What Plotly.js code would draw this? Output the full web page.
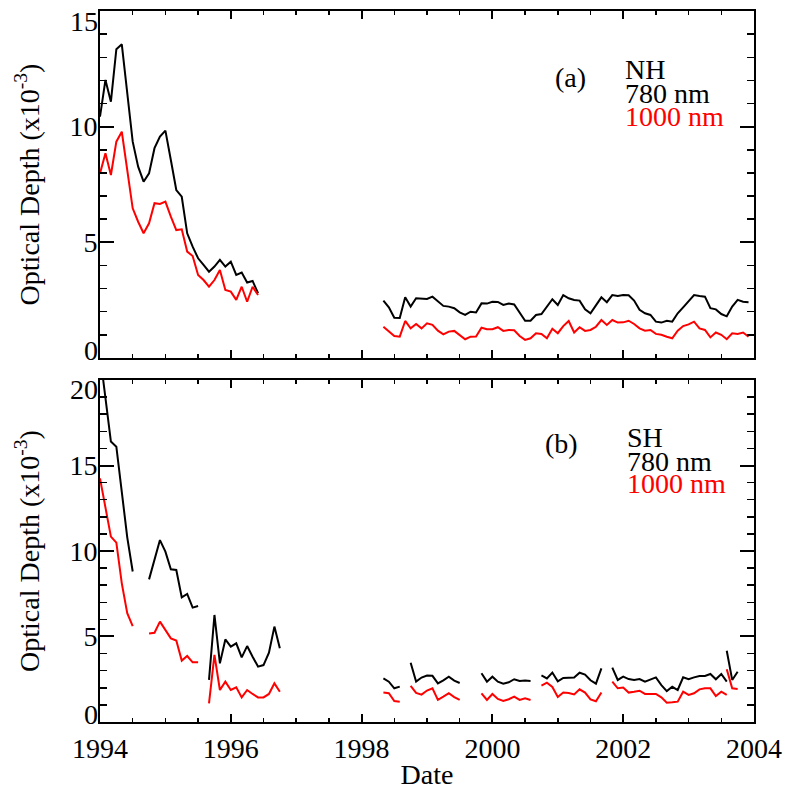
<!DOCTYPE html>
<html>
<head>
<meta charset="utf-8">
<script src="https://cdn.plot.ly/plotly-3.0.1.min.js"></script>
<style>html,body{margin:0;padding:0;background:#fff;}#chart{width:788px;height:794px;}</style>
</head>
<body>
<div id="chart"></div>
<script>
// ---- Data (optical depth x1e-3), monthly values; each segment starts at the given month ----
// Panel (a) NH
const nhStarts = ['1994-01', '1998-05'];
const nh780 = [
  [10.43, 12.02, 11.08, 13.35, 13.56, 11.44, 9.35, 8.27, 7.62, 7.98, 9.07, 9.57, 9.83, 8.56, 7.26,
   6.97, 5.39, 4.81, 4.31, 4.02, 3.73, 3.95, 4.24, 3.95, 4.16, 3.59, 3.69, 3.26, 3.33, 2.80],
  [2.48, 2.19, 1.74, 1.73, 2.62, 2.22, 2.58, 2.55, 2.55, 2.65,
   2.43, 2.25, 2.22, 2.15, 1.97, 1.86, 2.0, 1.97, 2.36, 2.35,
   2.43, 2.42, 2.29, 2.35, 2.31, 1.93, 1.61, 1.61, 1.86, 1.9,
   2.22, 2.54, 2.29, 2.72, 2.58, 2.51, 2.48, 2.1, 1.93, 2.29,
   2.62, 2.41, 2.72, 2.68, 2.72, 2.71, 2.48, 2.08, 1.93, 1.86,
   1.57, 1.53, 1.61, 1.57, 1.93, 2.19, 2.48, 2.72, 2.68, 2.65,
   2.15, 2.1, 1.9, 1.8, 2.22, 2.51, 2.43, 2.41]
];
const nh1000 = [
  [7.98, 8.85, 7.91, 9.35, 9.78, 8.13, 6.47, 5.89, 5.39, 5.82, 6.69, 6.66, 6.76, 6.11, 5.53,
   5.56, 4.60, 4.41, 3.59, 3.37, 3.08, 3.37, 3.80, 2.94, 2.87, 2.51, 3.08, 2.43, 3.08, 2.72],
  [1.35, 1.14, 0.95, 0.92, 1.6, 1.28, 1.47, 1.28, 1.5, 1.43,
   1.18, 1.02, 1.14, 1.17, 0.97, 0.81, 0.92, 0.93, 1.31, 1.24,
   1.24, 1.33, 1.17, 1.21, 1.2, 0.95, 0.78, 0.85, 1.07, 1.04,
   0.85, 1.26, 1.07, 1.38, 1.6, 1.1, 1.33, 1.17, 1.21, 1.35,
   1.64, 1.43, 1.64, 1.53, 1.54, 1.61, 1.47, 1.28, 1.18, 1.21,
   1.04, 1.0, 0.92, 0.85, 1.18, 1.38, 1.45, 1.57, 1.28, 1.21,
   0.89, 1.1, 1.0, 0.81, 1.07, 1.04, 1.1, 0.92]
];
// Panel (b) SH
const shStarts = ['1994-01', '1994-10', '1995-09', '1998-05', '1998-10', '1999-11', '2000-10', '2001-11', '2003-08'];
const sh780 = [
  [21.5, 18.8, 16.4, 16.1, 13.4, 10.8, 8.8],
  [8.34, 9.47, 10.64, 9.96, 8.93, 8.89, 7.29, 7.49, 6.69, 6.78],
  [2.46, 6.26, 3.43, 4.83, 4.41, 4.6, 3.78, 4.44, 3.82, 3.24, 3.33, 4.05, 5.58, 4.31],
  [2.55, 2.36, 1.97, 2.07],
  [3.47, 2.36, 2.6, 2.72, 2.7, 2.26, 2.44, 2.65, 2.42, 2.28],
  [2.85, 2.36, 2.65, 2.36, 2.24, 2.32, 2.5, 2.4, 2.42, 2.4],
  [2.72, 2.55, 2.89, 2.38, 2.58, 2.6, 2.6, 2.88, 2.77, 2.44, 2.24, 3.14],
  [3.18, 2.46, 2.65, 2.51, 2.46, 2.51, 2.36, 2.5, 2.61, 2.16, 1.81, 2.06, 1.87, 2.61, 2.5,
   2.61, 2.69, 2.69, 2.81, 2.5, 2.81, 2.36],
  [4.17, 2.46, 2.94]
];
const sh1000 = [
  [14.25, 12.5, 10.84, 10.49, 8.11, 6.36, 5.61],
  [5.18, 5.22, 5.87, 5.38, 4.89, 4.76, 3.59, 3.86, 3.49, 3.49],
  [1.09, 3.92, 1.87, 2.36, 1.87, 2.03, 1.44, 1.87, 1.64, 1.44, 1.44, 1.64, 2.26, 1.77],
  [1.72, 1.68, 1.23, 1.19],
  [2.11, 1.7, 1.6, 1.84, 1.97, 1.29, 1.48, 1.68, 1.46, 1.29],
  [1.68, 1.29, 1.64, 1.35, 1.23, 1.33, 1.48, 1.29, 1.38, 1.29],
  [2.13, 2.3, 2.05, 1.46, 1.72, 1.7, 1.61, 1.91, 1.72, 1.32, 1.21, 1.72],
  [2.36, 1.97, 2.01, 1.72, 1.77, 1.83, 1.64, 1.64, 1.64, 1.44, 1.13, 1.15, 1.19, 1.77, 1.58,
   1.68, 1.91, 1.97, 1.97, 1.52, 1.77, 1.58],
  [3.08, 1.97, 1.93]
];
const xTickVals = [1994, 1996, 1998, 2000, 2002, 2004];
const nhTickVals = [0, 5, 10, 15];
const shTickVals = [0, 5, 10, 15, 20];
const seriesNames = ['780 nm', '1000 nm'];

// ---- build x/y with gaps between segments ----
function build(starts, segs) {
  const x = [], y = [];
  segs.forEach((seg, s) => {
    const [yr, mo] = starts[s].split('-').map(Number);
    const t0 = yr + (mo - 1) / 12;
    seg.forEach((v, i) => { x.push(t0 + i / 12); y.push(v); });
    if (s < segs.length - 1) { x.push(null); y.push(null); }
  });
  return {x, y};
}

const FONT = 'Liberation Serif, Times New Roman, serif';
const traces = [];
function addPanel(starts, s780, s1000, xa, ya) {
  const a = build(starts, s780), b = build(starts, s1000);
  traces.push({x: a.x, y: a.y, xaxis: xa, yaxis: ya, mode: 'lines', name: seriesNames[0],
    line: {color: '#000000', width: 2}, connectgaps: false, showlegend: false});
  traces.push({x: b.x, y: b.y, xaxis: xa, yaxis: ya, mode: 'lines', name: seriesNames[1],
    line: {color: '#ff0000', width: 2}, connectgaps: false, showlegend: false});
}
addPanel(nhStarts, nh780, nh1000, 'x2', 'y2');
addPanel(shStarts, sh780, sh1000, 'x', 'y');
// placeholder (invisible) traces so that the overlay axes carrying the end labels are drawn
[['x2', 'y3'], ['x2', 'y4'], ['x', 'y5'], ['x', 'y6']].forEach(([xa, ya]) => {
  traces.push({x: [null], y: [null], xaxis: xa, yaxis: ya, mode: 'lines', showlegend: false, hoverinfo: 'skip'});
});

const tickFont = {family: FONT, size: 28, color: '#000'};
const baseX = {
  range: [1994, 2004], tickvals: xTickVals, ticks: 'inside', ticklen: 8, tickwidth: 2,
  tickcolor: '#000', showline: true, linecolor: '#000', linewidth: 2, mirror: 'ticks',
  showgrid: false, zeroline: false, tickfont: tickFont, ticklabeloverflow: 'allow',
  minor: {dtick: 0.5, ticks: 'inside', ticklen: 4, tickwidth: 1.5, tickcolor: '#000', showgrid: false}
};
const baseY = {
  ticks: 'inside', ticklen: 14, tickwidth: 2, tickcolor: '#000', showline: true, linecolor: '#000',
  linewidth: 2, mirror: 'ticks', showgrid: false, zeroline: false, ticklabelstandoff: -5,
  tickfont: tickFont, ticklabeloverflow: 'allow',
  minor: {dtick: 1, ticks: 'inside', ticklen: 7, tickwidth: 1.5, tickcolor: '#000', showgrid: false},
  title: {text: 'Optical Depth (x10<sup>-3</sup>)', font: {family: FONT, size: 28, color: '#000'}, standoff: 22}
};
// end labels sit inside the axis span (as in the original), drawn by overlay axes
function endLabelAxis(over, anchor, range, val, pos, shift) {
  return {overlaying: over, anchor: anchor, side: 'left', range: range, tickvals: [val], ticktext: [String(val)],
    ticklabelposition: pos, ticklabelshift: shift, ticks: '', showline: false, showgrid: false, zeroline: false,
    tickfont: tickFont, ticklabeloverflow: 'allow', ticklabelstandoff: 1};
}

const layout = {
  width: 788, height: 794,
  margin: {l: 100, r: 34, t: 11, b: 72},
  paper_bgcolor: '#ffffff', plot_bgcolor: '#ffffff',
  font: {family: FONT, size: 28, color: '#000'},
  showlegend: false,
  xaxis: Object.assign({}, baseX, {domain: [0, 1], anchor: 'y',
    title: {text: 'Date', font: {family: FONT, size: 28, color: '#000'}, standoff: 2}}),
  yaxis: Object.assign({}, baseY, {domain: [0, 0.481], anchor: 'x', range: [0, 20],
    tickvals: shTickVals, ticktext: shTickVals.map((v, i) => (i === 0 || i === shTickVals.length - 1) ? '' : String(v))}),
  xaxis2: Object.assign({}, baseX, {domain: [0, 1], anchor: 'y2', showticklabels: false, matches: 'x'}),
  yaxis2: Object.assign({}, baseY, {domain: [0.512, 1], anchor: 'x2', range: [0, 15],
    tickvals: nhTickVals, ticktext: nhTickVals.map((v, i) => (i === 0 || i === nhTickVals.length - 1) ? '' : String(v))}),
  yaxis3: endLabelAxis('y2', 'x2', [0, 15], nhTickVals[0], 'outside top', 12),
  yaxis4: endLabelAxis('y2', 'x2', [0, 15], nhTickVals[nhTickVals.length - 1], 'outside bottom', -9),
  yaxis5: endLabelAxis('y', 'x', [0, 20], shTickVals[0], 'outside top', 12),
  yaxis6: endLabelAxis('y', 'x', [0, 20], shTickVals[shTickVals.length - 1], 'outside bottom', -10),
  annotations: [
    {xref: 'paper', yref: 'paper', x: 0.719, y: 0.906, text: '(a)', showarrow: false, xanchor: 'center', yanchor: 'middle', font: {family: FONT, size: 28, color: '#000'}},
    {xref: 'paper', yref: 'paper', x: 0.800, y: 0.918, text: 'NH', showarrow: false, xanchor: 'left', yanchor: 'middle', font: {family: FONT, size: 28, color: '#000'}},
    {xref: 'paper', yref: 'paper', x: 0.800, y: 0.884, text: seriesNames[0], showarrow: false, xanchor: 'left', yanchor: 'middle', font: {family: FONT, size: 28, color: '#000'}},
    {xref: 'paper', yref: 'paper', x: 0.800, y: 0.852, text: seriesNames[1], showarrow: false, xanchor: 'left', yanchor: 'middle', font: {family: FONT, size: 28, color: '#ff0000'}},
    {xref: 'paper', yref: 'paper', x: 0.705, y: 0.391, text: '(b)', showarrow: false, xanchor: 'center', yanchor: 'middle', font: {family: FONT, size: 28, color: '#000'}},
    {xref: 'paper', yref: 'paper', x: 0.803, y: 0.400, text: 'SH', showarrow: false, xanchor: 'left', yanchor: 'middle', font: {family: FONT, size: 28, color: '#000'}},
    {xref: 'paper', yref: 'paper', x: 0.803, y: 0.367, text: seriesNames[0], showarrow: false, xanchor: 'left', yanchor: 'middle', font: {family: FONT, size: 28, color: '#000'}},
    {xref: 'paper', yref: 'paper', x: 0.803, y: 0.335, text: seriesNames[1], showarrow: false, xanchor: 'left', yanchor: 'middle', font: {family: FONT, size: 28, color: '#ff0000'}}
  ]
};

Plotly.newPlot('chart', traces, layout, {staticPlot: true, displayModeBar: false});
</script>
</body>
</html>
